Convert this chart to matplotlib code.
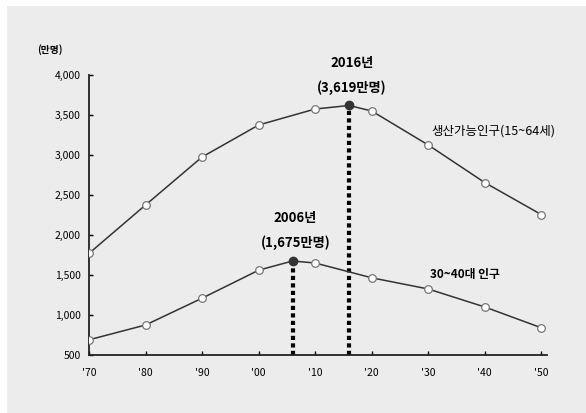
import matplotlib.pyplot as plt
from matplotlib.patches import Rectangle

plt.rcParams['font.family'] = ['Noto Sans CJK KR', 'DejaVu Sans']

# 연도별 인구 (만명)
years = [1970, 1980, 1990, 2000, 2010, 2016, 2020, 2030, 2040, 2050]
working = [1770, 2375, 2975, 3375, 3575, 3619, 3550, 3125, 2655, 2255]
years_3040 = [1970, 1980, 1990, 2000, 2006, 2010, 2020, 2030, 2040, 2050]
age3040 = [690, 875, 1210, 1560, 1675, 1650, 1465, 1325, 1100, 840]

peak_working = (2016, 3619)
peak_3040 = (2006, 1675)

xticks = [1970, 1980, 1990, 2000, 2010, 2020, 2030, 2040, 2050]
xticklabels = ["'70", "'80", "'90", "'00", "'10", "'20", "'30", "'40", "'50"]
yticks = [500, 1000, 1500, 2000, 2500, 3000, 3500, 4000]


def draw():
    fig = plt.figure(figsize=(5.86, 4.13), dpi=100, facecolor='white')
    # gray panel behind the chart
    fig.patches.append(Rectangle((7 / 586, 0), 1, 1 - 6 / 413, transform=fig.transFigure,
                                 facecolor='#ececec', edgecolor='none', zorder=-10))
    ax = fig.add_axes([89 / 586, 1 - 355 / 413, (547 - 89) / 586, (355 - 75) / 413])
    ax.set_facecolor('none')

    mk = dict(marker='o', ms=5.5, mfc='white', mec='#777777', mew=0.9, zorder=3)
    # lines through all points, open markers except at the peaks
    for xs, ys, peak in ((years, working, peak_working), (years_3040, age3040, peak_3040)):
        ax.plot(xs, ys, color='#333333', lw=1.1, zorder=2)
        ax.plot([x for x in xs if x != peak[0]],
                [v for x, v in zip(xs, ys) if x != peak[0]], ls='none', **mk)
        # dotted drop line + filled peak marker
        ax.plot([peak[0], peak[0]], [500, peak[1]], color='black', lw=3,
                ls=(0, (1, 0.8)), zorder=2)
        ax.plot(peak[0], peak[1], 'o', color='#333333', ms=6, zorder=4)

    ax.text(2016.5, 4150, '2016년', ha='center', va='center', fontsize=9.5, fontweight='bold')
    ax.text(2016.5, 3840, '(3,619만명)', ha='center', va='center', fontsize=9.5, fontweight='bold')
    ax.text(2006.5, 2215, '2006년', ha='center', va='center', fontsize=9.5, fontweight='bold')
    ax.text(2006.5, 1900, '(1,675만명)', ha='center', va='center', fontsize=9.5, fontweight='bold')
    ax.text(2030.5, 3300, '생산가능인구(15~64세)', ha='left', va='center', fontsize=9)
    ax.text(2030.3, 1512, '30~40대 인구', ha='left', va='center', fontsize=8.5, fontweight='bold')

    ax.set_xlim(1970, 2051)
    ax.set_ylim(500, 4000)
    ax.set_xticks(xticks)
    ax.set_xticklabels(xticklabels)
    ax.set_yticks(yticks)
    ax.set_yticklabels([f'{v:,}' for v in yticks])
    ax.tick_params(direction='in', length=3, width=1, labelsize=7.5, pad=6)
    ax.tick_params(axis='x', pad=9)
    for s in ('top', 'right'):
        ax.spines[s].set_visible(False)
    for s in ('left', 'bottom'):
        ax.spines[s].set_linewidth(1.3)
        ax.spines[s].set_color('#222222')
    ax.text(-0.085, 1.09, '(만명)', transform=ax.transAxes, fontsize=7, fontweight='bold',
            ha='center', va='center')

    fig.savefig('out.png', dpi=100, facecolor=fig.get_facecolor())
    plt.close()


if __name__ == '__main__':
    draw()
